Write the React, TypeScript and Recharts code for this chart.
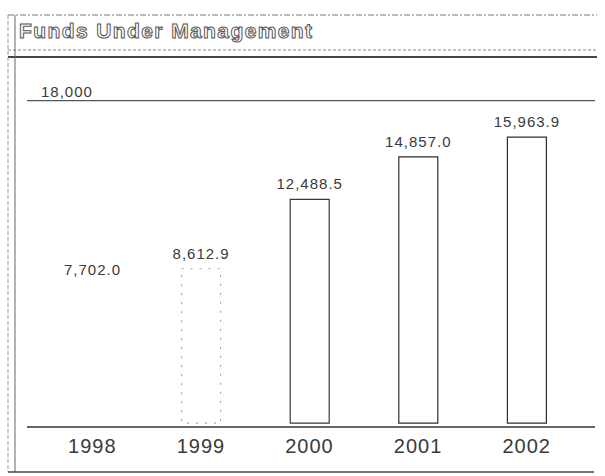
import { BarChart, Bar, XAxis, YAxis, LabelList, ReferenceLine, Cell } from 'recharts';

const years = ['1998', '1999', '2000', '2001', '2002'];
const funds = [7702.0, 8612.9, 12488.5, 14857.0, 15963.9];
const topTick = 18000;

// the 1998 bar did not survive the scan, 1999 is very faint
const barStrokes = ['none', '#a8a8a8', '#3a3a3a', '#2e2e2e', '#2e2e2e'];
const barDashes = ['0', '2 7', '0', '0', '0'];

const data = years.map((y, i) => ({ year: y, value: funds[i] }));

const fmt = (v: number) =>
  v.toLocaleString('en-US', { minimumFractionDigits: 1, maximumFractionDigits: 1 });

const font = '"Liberation Sans", Arial, sans-serif';

export default function App() {
  return (
    <div style={{ position: 'absolute', left: 0, top: 0, width: 605, height: 476, background: '#fff' }}>
      <svg width={605} height={476} style={{ position: 'absolute', left: 0, top: 0 }}>
        <line x1={8} y1={15} x2={597} y2={15} stroke="#777" strokeDasharray="6 2 2 2" />
        <line x1={8} y1={50} x2={597} y2={50} stroke="#888" strokeDasharray="3 2" />
        <line x1={8} y1={57} x2={597} y2={57} stroke="#444" strokeWidth={2} />
        <line x1={8} y1={15} x2={8} y2={472} stroke="#999" strokeDasharray="4 2" />
        <line x1={15} y1={15} x2={15} y2={472} stroke="#666" />
        <line x1={8} y1={472} x2={594} y2={472} stroke="#444" strokeWidth={1.5} />
        <text
          x={19}
          y={38}
          fontFamily={font}
          fontWeight="bold"
          fontSize={21}
          letterSpacing={1.4}
          fill="#fff"
          stroke="#555"
          strokeWidth={1}
        >
          Funds Under Management
        </text>
      </svg>
      <div style={{ position: 'absolute', left: 0, top: 0 }}>
        <BarChart
          width={605}
          height={476}
          data={data}
          margin={{ top: 97, right: 10, bottom: 19, left: 27 }}
          style={{ fontFamily: font }}
        >
          <XAxis
            dataKey="year"
            padding={{ left: 11, right: 14 }}
            tickLine={false}
            axisLine={{ stroke: '#333', strokeWidth: 1.5 }}
            tick={{ fontSize: 20, fill: '#3a3a3a', letterSpacing: 1 }}
            tickMargin={6}
            height={30}
          />
          <YAxis hide domain={[-220, 18200]} />
          <ReferenceLine
            y={topTick}
            stroke="#555"
            strokeWidth={1.2}
            label={{
              value: topTick.toLocaleString('en-US'),
              position: 'insideBottomLeft',
              offset: 4,
              dx: 10,
              fontSize: 15,
              fill: '#3a3a3a',
              letterSpacing: 1,
            }}
          />
          <Bar dataKey="value" barSize={39} fill="#fff" isAnimationActive={false}>
            {data.map((d, i) => (
              <Cell key={d.year} stroke={barStrokes[i]} strokeWidth={1.2} strokeDasharray={barDashes[i]} />
            ))}
            <LabelList
              dataKey="value"
              position="top"
              offset={10}
              formatter={(v: number) => fmt(v)}
              style={{ fontSize: 15, fill: '#3a3a3a', letterSpacing: 1 }}
            />
          </Bar>
        </BarChart>
      </div>
    </div>
  );
}
